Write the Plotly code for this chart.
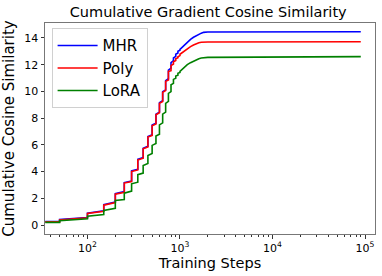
import plotly.graph_objects as go

# ---- data ----
step_x = [50, 100, 150, 200, 250, 300, 350, 400, 450, 500,
          550, 600, 650, 700, 750, 800, 850, 900, 950, 1000]
start_x = 35
tail_x = [1100, 1200, 1300, 1400, 1500, 1600, 1700, 1800, 1900, 2000, 90000]

mhr_start = 0.26
mhr_pre = [0.26, 0.57, 1.07, 1.72, 2.50, 3.30, 4.18, 5.05, 5.90, 6.75,
           7.62, 8.45, 9.30, 10.12, 10.95, 11.75, 12.30, 12.62, 12.88, 13.08]
mhr_post = [0.41, 0.89, 1.52, 2.35, 3.18, 4.05, 4.92, 5.75, 6.63, 7.48,
            8.30, 9.15, 9.98, 10.80, 11.60, 12.15, 12.50, 12.78, 13.00, 13.15]
mhr_tail = [13.45, 13.70, 13.90, 14.05, 14.18, 14.28, 14.36, 14.42, 14.45, 14.45, 14.46]

poly_start = 0.24
poly_pre = [0.24, 0.54, 1.03, 1.68, 2.45, 3.25, 4.12, 5.00, 5.85, 6.70,
            7.57, 8.40, 9.25, 10.07, 10.85, 11.55, 12.05, 12.32, 12.52, 12.68]
poly_post = [0.38, 0.86, 1.49, 2.31, 3.14, 4.00, 4.87, 5.70, 6.58, 7.43,
             8.25, 9.10, 9.93, 10.75, 11.50, 11.93, 12.22, 12.44, 12.60, 12.78]
poly_tail = [13.00, 13.20, 13.35, 13.47, 13.57, 13.64, 13.68, 13.70, 13.70, 13.70, 13.72]

lora_start = 0.20
lora_pre = [0.20, 0.47, 0.78, 1.25, 1.91, 2.54, 3.21, 3.89, 4.60, 5.35,
            6.10, 6.80, 7.65, 8.45, 9.25, 9.98, 10.60, 10.98, 11.22, 11.42]
lora_post = [0.33, 0.66, 1.09, 1.84, 2.39, 3.09, 3.77, 4.46, 5.20, 5.96,
             6.66, 7.50, 8.30, 9.10, 9.85, 10.50, 10.90, 11.15, 11.35, 11.50]
lora_tail = [11.80, 12.00, 12.15, 12.28, 12.38, 12.45, 12.50, 12.52, 12.54, 12.55, 12.60]

x_ticks = [100, 1000, 10000, 100000]
x_tick_text = ["10<sup>2</sup>", "10<sup>3</sup>", "10<sup>4</sup>", "10<sup>5</sup>"]
y_ticks = [0, 2, 4, 6, 8, 10, 12, 14]


def build(start, pre, post, tail):
    xs, ys = [start_x], [start]
    for sx, a, b in zip(step_x, pre, post):
        xs += [sx, sx]
        ys += [a, b]
    xs += tail_x
    ys += tail
    return xs, ys


series = [
    ("MHR", mhr_start, mhr_pre, mhr_post, mhr_tail, "#0000ff"),
    ("Poly", poly_start, poly_pre, poly_post, poly_tail, "#ff0000"),
    ("LoRA", lora_start, lora_pre, lora_post, lora_tail, "#008000"),
]

fig = go.Figure()
for name, s, pre, post, tail, col in series:
    xs, ys = build(s, pre, post, tail)
    fig.add_trace(go.Scatter(x=xs, y=ys, mode="lines", name=name,
                             line=dict(color=col, width=1.6)))

minor_vals = [m * 10 ** e for e in range(1, 5) for m in range(2, 10)]

font = "DejaVu Sans, sans-serif"
fig.update_layout(
    width=382, height=276,
    margin=dict(l=45, r=7, t=23, b=42, autoexpand=False),
    paper_bgcolor="white", plot_bgcolor="white",
    font=dict(family=font, color="black", size=11),
    title=dict(text="Cumulative Gradient Cosine Similarity", x=0.545, xanchor="center",
               y=0.955, yanchor="middle", font=dict(size=14.5, family=font)),
    showlegend=True,
    legend=dict(x=0.02, y=0.975, xanchor="left", yanchor="top",
                bgcolor="rgba(255,255,255,0.9)", bordercolor="#d0d0d0", borderwidth=1,
                font=dict(size=15, family=font), itemwidth=40,
                tracegroupgap=0),
)
fig.update_xaxes(
    type="log", range=[1.541, 5.108],
    tickvals=x_ticks, ticktext=x_tick_text,
    ticks="outside", ticklen=3.5, tickcolor="#333", tickfont=dict(size=11),
    minor=dict(tickvals=minor_vals, ticks="outside", ticklen=2, tickcolor="#333"),
    showgrid=False, zeroline=False,
    showline=True, linecolor="#777", linewidth=1, mirror=True,
    title=dict(text="Training Steps", font=dict(size=14.5), standoff=4),
)
fig.update_yaxes(
    range=[-0.67, 15.12], tickvals=y_ticks,
    ticks="outside", ticklen=3.5, tickcolor="#333", tickfont=dict(size=11),
    showgrid=False, zeroline=False,
    showline=True, linecolor="#777", linewidth=1, mirror=True,
    title=dict(text="Cumulative Cosine Similarity", font=dict(size=15), standoff=8),
)

fig.write_html("out.html", config={"displayModeBar": False},
               post_script="document.body.style.margin='0';document.body.style.overflow='hidden';")
